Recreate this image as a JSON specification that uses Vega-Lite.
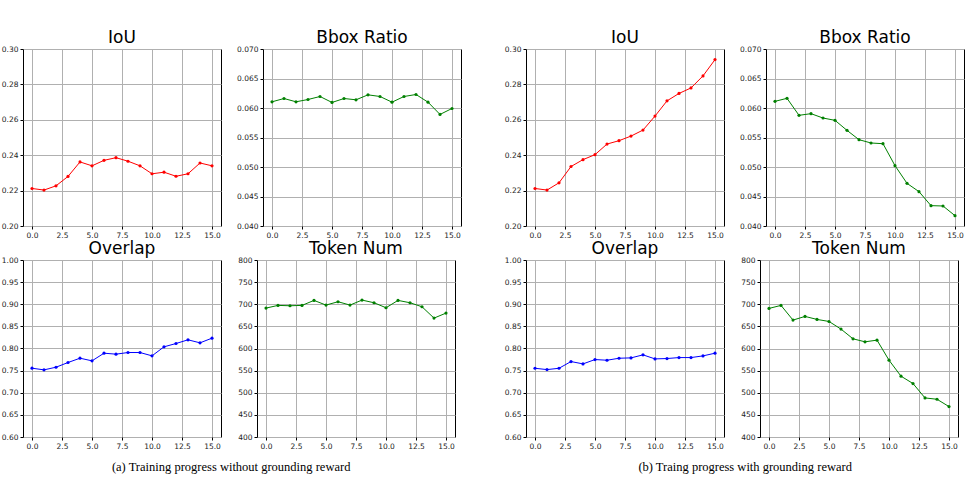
{
  "$schema": "https://vega.github.io/schema/vega-lite/v6.json",
  "padding": {"left": 0, "top": 28, "right": 0, "bottom": 0},
  "background": "white",
  "datasets": {
    "d": [
      {"g":"a","m":"IoU","step":0,"v":0.2212},{"g":"a","m":"IoU","step":1,"v":0.2203},{"g":"a","m":"IoU","step":2,"v":0.2227},{"g":"a","m":"IoU","step":3,"v":0.2280},{"g":"a","m":"IoU","step":4,"v":0.2362},{"g":"a","m":"IoU","step":5,"v":0.2340},{"g":"a","m":"IoU","step":6,"v":0.2371},{"g":"a","m":"IoU","step":7,"v":0.2386},{"g":"a","m":"IoU","step":8,"v":0.2366},{"g":"a","m":"IoU","step":9,"v":0.2340},{"g":"a","m":"IoU","step":10,"v":0.2295},{"g":"a","m":"IoU","step":11,"v":0.2304},{"g":"a","m":"IoU","step":12,"v":0.2281},{"g":"a","m":"IoU","step":13,"v":0.2295},{"g":"a","m":"IoU","step":14,"v":0.2356},{"g":"a","m":"IoU","step":15,"v":0.2340},
      {"g":"a","m":"Bbox","step":0,"v":0.06105},{"g":"a","m":"Bbox","step":1,"v":0.06161},{"g":"a","m":"Bbox","step":2,"v":0.06105},{"g":"a","m":"Bbox","step":3,"v":0.06144},{"g":"a","m":"Bbox","step":4,"v":0.06195},{"g":"a","m":"Bbox","step":5,"v":0.06094},{"g":"a","m":"Bbox","step":6,"v":0.06161},{"g":"a","m":"Bbox","step":7,"v":0.06139},{"g":"a","m":"Bbox","step":8,"v":0.06223},{"g":"a","m":"Bbox","step":9,"v":0.06195},{"g":"a","m":"Bbox","step":10,"v":0.06099},{"g":"a","m":"Bbox","step":11,"v":0.06195},{"g":"a","m":"Bbox","step":12,"v":0.06229},{"g":"a","m":"Bbox","step":13,"v":0.06099},{"g":"a","m":"Bbox","step":14,"v":0.05891},{"g":"a","m":"Bbox","step":15,"v":0.05992},
      {"g":"a","m":"Overlap","step":0,"v":0.7555},{"g":"a","m":"Overlap","step":1,"v":0.7517},{"g":"a","m":"Overlap","step":2,"v":0.7577},{"g":"a","m":"Overlap","step":3,"v":0.7683},{"g":"a","m":"Overlap","step":4,"v":0.7781},{"g":"a","m":"Overlap","step":5,"v":0.7721},{"g":"a","m":"Overlap","step":6,"v":0.7894},{"g":"a","m":"Overlap","step":7,"v":0.7872},{"g":"a","m":"Overlap","step":8,"v":0.7909},{"g":"a","m":"Overlap","step":9,"v":0.7909},{"g":"a","m":"Overlap","step":10,"v":0.7834},{"g":"a","m":"Overlap","step":11,"v":0.8038},{"g":"a","m":"Overlap","step":12,"v":0.8113},{"g":"a","m":"Overlap","step":13,"v":0.8196},{"g":"a","m":"Overlap","step":14,"v":0.8128},{"g":"a","m":"Overlap","step":15,"v":0.8234},
      {"g":"a","m":"Token","step":0,"v":691.3},{"g":"a","m":"Token","step":1,"v":697.4},{"g":"a","m":"Token","step":2,"v":696.6},{"g":"a","m":"Token","step":3,"v":697.4},{"g":"a","m":"Token","step":4,"v":708.7},{"g":"a","m":"Token","step":5,"v":698.1},{"g":"a","m":"Token","step":6,"v":705.7},{"g":"a","m":"Token","step":7,"v":698.1},{"g":"a","m":"Token","step":8,"v":709.4},{"g":"a","m":"Token","step":9,"v":703.4},{"g":"a","m":"Token","step":10,"v":692.1},{"g":"a","m":"Token","step":11,"v":708.7},{"g":"a","m":"Token","step":12,"v":703.4},{"g":"a","m":"Token","step":13,"v":694.3},{"g":"a","m":"Token","step":14,"v":668.7},{"g":"a","m":"Token","step":15,"v":680.0},
      {"g":"b","m":"IoU","step":0,"v":0.2212},{"g":"b","m":"IoU","step":1,"v":0.2203},{"g":"b","m":"IoU","step":2,"v":0.2244},{"g":"b","m":"IoU","step":3,"v":0.2336},{"g":"b","m":"IoU","step":4,"v":0.2375},{"g":"b","m":"IoU","step":5,"v":0.2403},{"g":"b","m":"IoU","step":6,"v":0.2463},{"g":"b","m":"IoU","step":7,"v":0.2482},{"g":"b","m":"IoU","step":8,"v":0.2508},{"g":"b","m":"IoU","step":9,"v":0.2542},{"g":"b","m":"IoU","step":10,"v":0.2621},{"g":"b","m":"IoU","step":11,"v":0.2707},{"g":"b","m":"IoU","step":12,"v":0.2749},{"g":"b","m":"IoU","step":13,"v":0.2780},{"g":"b","m":"IoU","step":14,"v":0.2848},{"g":"b","m":"IoU","step":15,"v":0.2940},
      {"g":"b","m":"Bbox","step":0,"v":0.06113},{"g":"b","m":"Bbox","step":1,"v":0.06164},{"g":"b","m":"Bbox","step":2,"v":0.05876},{"g":"b","m":"Bbox","step":3,"v":0.05904},{"g":"b","m":"Bbox","step":4,"v":0.05830},{"g":"b","m":"Bbox","step":5,"v":0.05791},{"g":"b","m":"Bbox","step":6,"v":0.05621},{"g":"b","m":"Bbox","step":7,"v":0.05463},{"g":"b","m":"Bbox","step":8,"v":0.05407},{"g":"b","m":"Bbox","step":9,"v":0.05395},{"g":"b","m":"Bbox","step":10,"v":0.05023},{"g":"b","m":"Bbox","step":11,"v":0.04723},{"g":"b","m":"Bbox","step":12,"v":0.04582},{"g":"b","m":"Bbox","step":13,"v":0.04345},{"g":"b","m":"Bbox","step":14,"v":0.04339},{"g":"b","m":"Bbox","step":15,"v":0.04175},
      {"g":"b","m":"Overlap","step":0,"v":0.7553},{"g":"b","m":"Overlap","step":1,"v":0.7523},{"g":"b","m":"Overlap","step":2,"v":0.7553},{"g":"b","m":"Overlap","step":3,"v":0.7705},{"g":"b","m":"Overlap","step":4,"v":0.7652},{"g":"b","m":"Overlap","step":5,"v":0.7750},{"g":"b","m":"Overlap","step":6,"v":0.7735},{"g":"b","m":"Overlap","step":7,"v":0.7780},{"g":"b","m":"Overlap","step":8,"v":0.7788},{"g":"b","m":"Overlap","step":9,"v":0.7856},{"g":"b","m":"Overlap","step":10,"v":0.7765},{"g":"b","m":"Overlap","step":11,"v":0.7773},{"g":"b","m":"Overlap","step":12,"v":0.7795},{"g":"b","m":"Overlap","step":13,"v":0.7795},{"g":"b","m":"Overlap","step":14,"v":0.7833},{"g":"b","m":"Overlap","step":15,"v":0.7894},
      {"g":"b","m":"Token","step":0,"v":690.6},{"g":"b","m":"Token","step":1,"v":697.4},{"g":"b","m":"Token","step":2,"v":664.2},{"g":"b","m":"Token","step":3,"v":672.5},{"g":"b","m":"Token","step":4,"v":665.7},{"g":"b","m":"Token","step":5,"v":661.1},{"g":"b","m":"Token","step":6,"v":643.8},{"g":"b","m":"Token","step":7,"v":621.9},{"g":"b","m":"Token","step":8,"v":615.1},{"g":"b","m":"Token","step":9,"v":618.9},{"g":"b","m":"Token","step":10,"v":573.6},{"g":"b","m":"Token","step":11,"v":537.4},{"g":"b","m":"Token","step":12,"v":520.8},{"g":"b","m":"Token","step":13,"v":488.3},{"g":"b","m":"Token","step":14,"v":485.3},{"g":"b","m":"Token","step":15,"v":468.7}
    ]
  },
  "data": {"name": "d"},
  "config": {
    "view": {"stroke": "#000", "strokeWidth": 1},
    "axis": {"title": null, "domain": false, "labelFont": "DejaVu Sans", "labelFontSize": 7.5, "labelColor": "#222", "tickColor": "#000", "tickSize": 3, "labelPadding": 2, "gridColor": "#b0b0b0", "gridWidth": 1, "labelFlush": false, "labelOverlap": false},
    "axisY": {"minExtent": 20, "maxExtent": 20},
    "axisX": {"minExtent": 8, "maxExtent": 8},
    "title": {"font": "DejaVu Sans", "fontSize": 17, "fontWeight": "normal", "color": "#000", "offset": -2, "anchor": "middle"}
  },
  "hconcat": [
    {
      "title": {"text": "(a) Training progress without grounding reward", "orient": "bottom", "font": "Liberation Serif", "fontSize": 12.5, "fontWeight": "normal", "offset": 11, "anchor": "middle"},
      "spacing": 0,
      "vconcat": [
        {"spacing": 14, "hconcat": [
          {"title": "IoU", "width": 198, "height": 177,
           "transform": [{"filter": "datum.g === 'a' && datum.m === 'IoU'"}],
           "encoding": {
             "x": {"field": "step", "type": "quantitative", "scale": {"domain": [-0.75, 15.75], "nice": false, "zero": false}, "axis": {"values": [0, 2.5, 5, 7.5, 10, 12.5, 15], "format": ".1f"}},
             "y": {"field": "v", "type": "quantitative", "scale": {"domain": [0.2, 0.3], "nice": false, "zero": false}, "axis": {"values": [0.2, 0.22, 0.24, 0.26, 0.28, 0.3], "format": ".2f"}}
           },
           "layer": [
             {"mark": {"type": "line", "color": "#ff0000", "strokeWidth": 1}},
             {"mark": {"type": "point", "filled": true, "shape": "circle", "color": "#ff0000", "size": 10, "opacity": 1}}
           ]},
          {"title": "Bbox Ratio", "width": 198, "height": 177,
           "transform": [{"filter": "datum.g === 'a' && datum.m === 'Bbox'"}],
           "encoding": {
             "x": {"field": "step", "type": "quantitative", "scale": {"domain": [-0.75, 15.75], "nice": false, "zero": false}, "axis": {"values": [0, 2.5, 5, 7.5, 10, 12.5, 15], "format": ".1f"}},
             "y": {"field": "v", "type": "quantitative", "scale": {"domain": [0.04, 0.07], "nice": false, "zero": false}, "axis": {"values": [0.04, 0.045, 0.05, 0.055, 0.06, 0.065, 0.07], "format": ".3f"}}
           },
           "layer": [
             {"mark": {"type": "line", "color": "#008000", "strokeWidth": 1}},
             {"mark": {"type": "point", "filled": true, "shape": "circle", "color": "#008000", "size": 10, "opacity": 1}}
           ]}
        ]},
        {"spacing": 14, "hconcat": [
          {"title": "Overlap", "width": 198, "height": 177,
           "transform": [{"filter": "datum.g === 'a' && datum.m === 'Overlap'"}],
           "encoding": {
             "x": {"field": "step", "type": "quantitative", "scale": {"domain": [-0.75, 15.75], "nice": false, "zero": false}, "axis": {"values": [0, 2.5, 5, 7.5, 10, 12.5, 15], "format": ".1f"}},
             "y": {"field": "v", "type": "quantitative", "scale": {"domain": [0.6, 1.0], "nice": false, "zero": false}, "axis": {"values": [0.6, 0.65, 0.7, 0.75, 0.8, 0.85, 0.9, 0.95, 1.0], "format": ".2f"}}
           },
           "layer": [
             {"mark": {"type": "line", "color": "#0000ff", "strokeWidth": 1}},
             {"mark": {"type": "point", "filled": true, "shape": "circle", "color": "#0000ff", "size": 10, "opacity": 1}}
           ]},
          {"title": "Token Num", "width": 198, "height": 177,
           "transform": [{"filter": "datum.g === 'a' && datum.m === 'Token'"}],
           "encoding": {
             "x": {"field": "step", "type": "quantitative", "scale": {"domain": [-0.75, 15.75], "nice": false, "zero": false}, "axis": {"values": [0, 2.5, 5, 7.5, 10, 12.5, 15], "format": ".1f"}},
             "y": {"field": "v", "type": "quantitative", "scale": {"domain": [400, 800], "nice": false, "zero": false}, "axis": {"values": [400, 450, 500, 550, 600, 650, 700, 750, 800], "format": "d"}}
           },
           "layer": [
             {"mark": {"type": "line", "color": "#008000", "strokeWidth": 1}},
             {"mark": {"type": "point", "filled": true, "shape": "circle", "color": "#008000", "size": 10, "opacity": 1}}
           ]}
        ]}
      ]
    },
    {
      "title": {"text": "(b) Traing progress with grounding reward", "orient": "bottom", "font": "Liberation Serif", "fontSize": 12.5, "fontWeight": "normal", "offset": 11, "anchor": "middle", "dx": 11},
      "spacing": 0,
      "vconcat": [
        {"spacing": 14, "hconcat": [
          {"title": "IoU", "width": 198, "height": 177,
           "transform": [{"filter": "datum.g === 'b' && datum.m === 'IoU'"}],
           "encoding": {
             "x": {"field": "step", "type": "quantitative", "scale": {"domain": [-0.75, 15.75], "nice": false, "zero": false}, "axis": {"values": [0, 2.5, 5, 7.5, 10, 12.5, 15], "format": ".1f"}},
             "y": {"field": "v", "type": "quantitative", "scale": {"domain": [0.2, 0.3], "nice": false, "zero": false}, "axis": {"values": [0.2, 0.22, 0.24, 0.26, 0.28, 0.3], "format": ".2f"}}
           },
           "layer": [
             {"mark": {"type": "line", "color": "#ff0000", "strokeWidth": 1}},
             {"mark": {"type": "point", "filled": true, "shape": "circle", "color": "#ff0000", "size": 10, "opacity": 1}}
           ]},
          {"title": "Bbox Ratio", "width": 198, "height": 177,
           "transform": [{"filter": "datum.g === 'b' && datum.m === 'Bbox'"}],
           "encoding": {
             "x": {"field": "step", "type": "quantitative", "scale": {"domain": [-0.75, 15.75], "nice": false, "zero": false}, "axis": {"values": [0, 2.5, 5, 7.5, 10, 12.5, 15], "format": ".1f"}},
             "y": {"field": "v", "type": "quantitative", "scale": {"domain": [0.04, 0.07], "nice": false, "zero": false}, "axis": {"values": [0.04, 0.045, 0.05, 0.055, 0.06, 0.065, 0.07], "format": ".3f"}}
           },
           "layer": [
             {"mark": {"type": "line", "color": "#008000", "strokeWidth": 1}},
             {"mark": {"type": "point", "filled": true, "shape": "circle", "color": "#008000", "size": 10, "opacity": 1}}
           ]}
        ]},
        {"spacing": 14, "hconcat": [
          {"title": "Overlap", "width": 198, "height": 177,
           "transform": [{"filter": "datum.g === 'b' && datum.m === 'Overlap'"}],
           "encoding": {
             "x": {"field": "step", "type": "quantitative", "scale": {"domain": [-0.75, 15.75], "nice": false, "zero": false}, "axis": {"values": [0, 2.5, 5, 7.5, 10, 12.5, 15], "format": ".1f"}},
             "y": {"field": "v", "type": "quantitative", "scale": {"domain": [0.6, 1.0], "nice": false, "zero": false}, "axis": {"values": [0.6, 0.65, 0.7, 0.75, 0.8, 0.85, 0.9, 0.95, 1.0], "format": ".2f"}}
           },
           "layer": [
             {"mark": {"type": "line", "color": "#0000ff", "strokeWidth": 1}},
             {"mark": {"type": "point", "filled": true, "shape": "circle", "color": "#0000ff", "size": 10, "opacity": 1}}
           ]},
          {"title": "Token Num", "width": 198, "height": 177,
           "transform": [{"filter": "datum.g === 'b' && datum.m === 'Token'"}],
           "encoding": {
             "x": {"field": "step", "type": "quantitative", "scale": {"domain": [-0.75, 15.75], "nice": false, "zero": false}, "axis": {"values": [0, 2.5, 5, 7.5, 10, 12.5, 15], "format": ".1f"}},
             "y": {"field": "v", "type": "quantitative", "scale": {"domain": [400, 800], "nice": false, "zero": false}, "axis": {"values": [400, 450, 500, 550, 600, 650, 700, 750, 800], "format": "d"}}
           },
           "layer": [
             {"mark": {"type": "line", "color": "#008000", "strokeWidth": 1}},
             {"mark": {"type": "point", "filled": true, "shape": "circle", "color": "#008000", "size": 10, "opacity": 1}}
           ]}
        ]}
      ]
    }
  ],
  "spacing": 41
}
